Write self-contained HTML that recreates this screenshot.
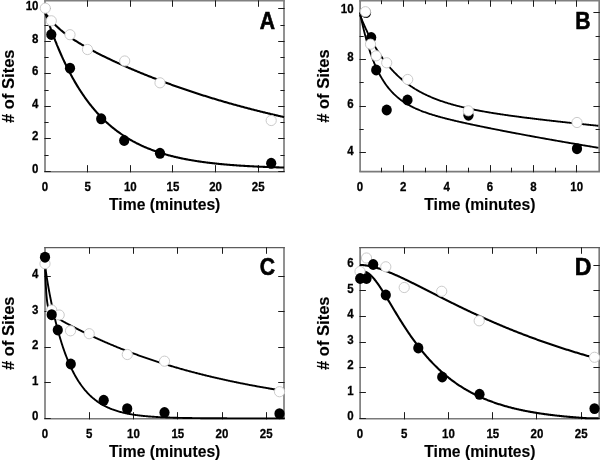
<!DOCTYPE html>
<html><head><meta charset="utf-8"><title>Figure</title>
<style>html,body{margin:0;padding:0;background:#fff;}svg{display:block;}svg{will-change:transform;filter:grayscale(1);}</style>
</head><body>
<svg width="600" height="461" viewBox="0 0 600 461" font-family="'Liberation Sans', sans-serif" font-weight="bold" fill="#000" stroke="#000" stroke-width="0">
<rect width="600" height="461" fill="#fff"/>
<line x1="44.20" y1="171.75" x2="284.80" y2="171.75" stroke="#7a7a7a" stroke-width="1.7"/>
<line x1="45.00" y1="0.60" x2="45.00" y2="171.75" stroke="#7a7a7a" stroke-width="1.65"/>
<line x1="284.00" y1="0.60" x2="284.00" y2="171.75" stroke="#7a7a7a" stroke-width="1.65"/>
<line x1="44.10" y1="0.60" x2="284.90" y2="0.60" stroke="#808080" stroke-width="1.7"/>
<line x1="87.50" y1="172.35" x2="87.50" y2="165.15" stroke="#1c1c1c" stroke-width="1.0"/>
<line x1="87.50" y1="0.30" x2="87.50" y2="6.80" stroke="#1c1c1c" stroke-width="1.0"/>
<line x1="130.50" y1="172.35" x2="130.50" y2="165.15" stroke="#1c1c1c" stroke-width="1.0"/>
<line x1="130.50" y1="0.30" x2="130.50" y2="6.80" stroke="#1c1c1c" stroke-width="1.0"/>
<line x1="172.50" y1="172.35" x2="172.50" y2="165.15" stroke="#1c1c1c" stroke-width="1.0"/>
<line x1="172.50" y1="0.30" x2="172.50" y2="6.80" stroke="#1c1c1c" stroke-width="1.0"/>
<line x1="215.50" y1="172.35" x2="215.50" y2="165.15" stroke="#1c1c1c" stroke-width="1.0"/>
<line x1="215.50" y1="0.30" x2="215.50" y2="6.80" stroke="#1c1c1c" stroke-width="1.0"/>
<line x1="258.50" y1="172.35" x2="258.50" y2="165.15" stroke="#1c1c1c" stroke-width="1.0"/>
<line x1="258.50" y1="0.30" x2="258.50" y2="6.80" stroke="#1c1c1c" stroke-width="1.0"/>
<line x1="44.40" y1="171.50" x2="50.80" y2="171.50" stroke="#1c1c1c" stroke-width="1.0"/>
<line x1="284.60" y1="171.50" x2="278.20" y2="171.50" stroke="#1c1c1c" stroke-width="1.0"/>
<line x1="44.40" y1="155.50" x2="48.60" y2="155.50" stroke="#1c1c1c" stroke-width="1.0"/>
<line x1="284.60" y1="155.50" x2="280.40" y2="155.50" stroke="#1c1c1c" stroke-width="1.0"/>
<line x1="44.40" y1="138.50" x2="50.80" y2="138.50" stroke="#1c1c1c" stroke-width="1.0"/>
<line x1="284.60" y1="138.50" x2="278.20" y2="138.50" stroke="#1c1c1c" stroke-width="1.0"/>
<line x1="44.40" y1="122.50" x2="48.60" y2="122.50" stroke="#1c1c1c" stroke-width="1.0"/>
<line x1="284.60" y1="122.50" x2="280.40" y2="122.50" stroke="#1c1c1c" stroke-width="1.0"/>
<line x1="44.40" y1="106.50" x2="50.80" y2="106.50" stroke="#1c1c1c" stroke-width="1.0"/>
<line x1="284.60" y1="106.50" x2="278.20" y2="106.50" stroke="#1c1c1c" stroke-width="1.0"/>
<line x1="44.40" y1="90.50" x2="48.60" y2="90.50" stroke="#1c1c1c" stroke-width="1.0"/>
<line x1="284.60" y1="90.50" x2="280.40" y2="90.50" stroke="#1c1c1c" stroke-width="1.0"/>
<line x1="44.40" y1="73.50" x2="50.80" y2="73.50" stroke="#1c1c1c" stroke-width="1.0"/>
<line x1="284.60" y1="73.50" x2="278.20" y2="73.50" stroke="#1c1c1c" stroke-width="1.0"/>
<line x1="44.40" y1="57.50" x2="48.60" y2="57.50" stroke="#1c1c1c" stroke-width="1.0"/>
<line x1="284.60" y1="57.50" x2="280.40" y2="57.50" stroke="#1c1c1c" stroke-width="1.0"/>
<line x1="44.40" y1="41.50" x2="50.80" y2="41.50" stroke="#1c1c1c" stroke-width="1.0"/>
<line x1="284.60" y1="41.50" x2="278.20" y2="41.50" stroke="#1c1c1c" stroke-width="1.0"/>
<line x1="44.40" y1="25.50" x2="48.60" y2="25.50" stroke="#1c1c1c" stroke-width="1.0"/>
<line x1="284.60" y1="25.50" x2="280.40" y2="25.50" stroke="#1c1c1c" stroke-width="1.0"/>
<line x1="44.40" y1="8.50" x2="50.80" y2="8.50" stroke="#1c1c1c" stroke-width="1.0"/>
<line x1="284.60" y1="8.50" x2="278.20" y2="8.50" stroke="#1c1c1c" stroke-width="1.0"/>
<text transform="translate(45.0,190.8) scale(1,1.1)" font-size="11.5" text-anchor="middle" stroke-width="0.25">0</text>
<text transform="translate(87.7,190.8) scale(1,1.1)" font-size="11.5" text-anchor="middle" stroke-width="0.25">5</text>
<text transform="translate(130.3,190.8) scale(1,1.1)" font-size="11.5" text-anchor="middle" stroke-width="0.25">10</text>
<text transform="translate(172.9,190.8) scale(1,1.1)" font-size="11.5" text-anchor="middle" stroke-width="0.25">15</text>
<text transform="translate(215.6,190.8) scale(1,1.1)" font-size="11.5" text-anchor="middle" stroke-width="0.25">20</text>
<text transform="translate(258.2,190.8) scale(1,1.1)" font-size="11.5" text-anchor="middle" stroke-width="0.25">25</text>
<text transform="translate(38.5,172.9) scale(1,1.1)" font-size="11.5" text-anchor="end" stroke-width="0.25">0</text>
<text transform="translate(38.5,140.4) scale(1,1.1)" font-size="11.5" text-anchor="end" stroke-width="0.25">2</text>
<text transform="translate(38.5,107.9) scale(1,1.1)" font-size="11.5" text-anchor="end" stroke-width="0.25">4</text>
<text transform="translate(38.5,75.4) scale(1,1.1)" font-size="11.5" text-anchor="end" stroke-width="0.25">6</text>
<text transform="translate(38.5,42.9) scale(1,1.1)" font-size="11.5" text-anchor="end" stroke-width="0.25">8</text>
<text transform="translate(38.5,9.9) scale(1,1.1)" font-size="11.5" text-anchor="end" stroke-width="0.25">10</text>
<text x="164.7" y="209.9" font-size="15.7" text-anchor="middle" stroke-width="0.12" >Time (minutes)</text>
<text transform="translate(13.5,86.2) rotate(-90) scale(1.04,1)" font-size="15.9" stroke-width="0.12" text-anchor="middle">#&#160;of Sites</text>
<text transform="translate(267.4,29.2) scale(0.9,1)" font-size="23.5" stroke-width="0.6" stroke-linejoin="miter" text-anchor="middle">A</text>
<path d="M45.00,12.65 L45.22,12.96 L45.43,13.27 L45.65,13.58 L45.87,13.88 L46.08,14.18 L46.30,14.48 L46.52,14.78 L46.73,15.07 L46.95,15.36 L47.17,15.65 L47.38,15.93 L47.60,16.22 L47.82,16.50 L48.03,16.78 L48.25,17.06 L48.47,17.33 L48.68,17.60 L48.90,17.87 L49.12,18.14 L49.33,18.40 L49.55,18.67 L49.77,18.93 L49.98,19.19 L50.20,19.45 L50.42,19.70 L50.63,19.95 L50.85,20.21 L51.07,20.45 L51.28,20.70 L51.50,20.95 L51.72,21.19 L51.93,21.43 L52.15,21.67 L52.37,21.91 L52.58,22.15 L52.80,22.38 L53.02,22.61 L53.23,22.85 L53.45,23.08 L53.67,23.30 L53.89,23.53 L54.10,23.75 L54.32,23.98 L54.54,24.20 L54.75,24.42 L54.97,24.64 L55.19,24.86 L55.40,25.07 L55.62,25.29 L55.84,25.50 L56.05,25.71 L56.27,25.92 L56.49,26.13 L56.70,26.34 L56.92,26.54 L57.14,26.75 L57.35,26.95 L57.57,27.15 L57.79,27.35 L58.00,27.55 L58.22,27.75 L58.44,27.95 L58.65,28.15 L58.87,28.34 L59.09,28.53 L59.30,28.73 L59.52,28.92 L59.74,29.11 L59.95,29.30 L60.17,29.49 L60.39,29.67 L60.60,29.86 L60.82,30.05 L61.04,30.23 L61.25,30.41 L61.47,30.59 L61.69,30.78 L61.90,30.96 L62.12,31.13 L62.86,31.74 L63.60,32.34 L64.35,32.92 L65.09,33.50 L65.83,34.07 L66.57,34.62 L67.32,35.17 L68.06,35.72 L68.80,36.25 L69.54,36.78 L70.29,37.29 L71.03,37.81 L71.77,38.31 L72.51,38.81 L73.26,39.31 L74.00,39.79 L74.74,40.28 L75.48,40.75 L76.22,41.22 L76.97,41.69 L77.71,42.15 L78.45,42.61 L79.19,43.06 L79.94,43.51 L80.68,43.96 L81.42,44.40 L82.16,44.84 L82.91,45.27 L83.65,45.70 L84.39,46.13 L85.13,46.55 L85.88,46.97 L86.62,47.39 L87.36,47.80 L88.10,48.21 L88.84,48.62 L89.59,49.03 L90.33,49.43 L91.07,49.83 L91.81,50.23 L92.56,50.62 L93.30,51.02 L94.04,51.41 L94.78,51.80 L95.53,52.18 L96.27,52.57 L97.01,52.95 L97.75,53.33 L98.49,53.71 L99.24,54.09 L99.98,54.46 L100.72,54.83 L101.46,55.20 L102.21,55.57 L102.95,55.94 L103.69,56.31 L104.43,56.67 L105.18,57.03 L105.92,57.40 L106.66,57.76 L107.40,58.11 L108.15,58.47 L108.89,58.82 L109.63,59.18 L110.37,59.53 L111.11,59.88 L111.86,60.23 L112.60,60.58 L113.34,60.93 L114.08,61.27 L114.83,61.61 L115.57,61.96 L116.31,62.30 L117.05,62.64 L117.80,62.98 L118.54,63.32 L119.28,63.65 L120.02,63.99 L120.77,64.32 L121.51,64.65 L122.25,64.99 L122.99,65.32 L123.73,65.65 L124.48,65.97 L125.22,66.30 L125.96,66.63 L126.70,66.95 L127.45,67.27 L128.19,67.60 L128.93,67.92 L129.67,68.24 L130.42,68.56 L131.16,68.88 L131.90,69.19 L132.64,69.51 L133.39,69.83 L134.13,70.14 L134.87,70.45 L135.61,70.76 L136.35,71.08 L137.10,71.39 L137.84,71.69 L138.58,72.00 L139.32,72.31 L140.07,72.62 L140.81,72.92 L141.55,73.22 L142.29,73.53 L143.04,73.83 L143.78,74.13 L144.52,74.43 L145.26,74.73 L146.00,75.03 L146.75,75.33 L147.49,75.62 L148.23,75.92 L148.97,76.21 L149.72,76.51 L150.46,76.80 L151.20,77.09 L151.94,77.38 L152.69,77.67 L153.43,77.96 L154.17,78.25 L154.91,78.53 L155.66,78.82 L156.40,79.11 L157.14,79.39 L157.88,79.67 L158.62,79.96 L159.37,80.24 L160.11,80.52 L160.85,80.80 L161.59,81.08 L162.34,81.36 L163.08,81.63 L163.82,81.91 L164.56,82.19 L165.31,82.46 L166.05,82.74 L166.79,83.01 L167.53,83.28 L168.28,83.55 L169.02,83.82 L169.76,84.09 L170.50,84.36 L171.24,84.63 L171.99,84.90 L172.73,85.16 L173.47,85.43 L174.21,85.69 L174.96,85.96 L175.70,86.22 L176.44,86.48 L177.18,86.74 L177.93,87.01 L178.67,87.27 L179.41,87.52 L180.15,87.78 L180.90,88.04 L181.64,88.30 L182.38,88.55 L183.12,88.81 L183.86,89.06 L184.61,89.32 L185.35,89.57 L186.09,89.82 L186.83,90.07 L187.58,90.32 L188.32,90.57 L189.06,90.82 L189.80,91.07 L190.55,91.32 L191.29,91.56 L192.03,91.81 L192.77,92.05 L193.51,92.30 L194.26,92.54 L195.00,92.78 L195.74,93.03 L196.48,93.27 L197.23,93.51 L197.97,93.75 L198.71,93.99 L199.45,94.23 L200.20,94.46 L200.94,94.70 L201.68,94.94 L202.42,95.17 L203.17,95.41 L203.91,95.64 L204.65,95.87 L205.39,96.11 L206.13,96.34 L206.88,96.57 L207.62,96.80 L208.36,97.03 L209.10,97.26 L209.85,97.49 L210.59,97.71 L211.33,97.94 L212.07,98.17 L212.82,98.39 L213.56,98.62 L214.30,98.84 L215.04,99.06 L215.79,99.29 L216.53,99.51 L217.27,99.73 L218.01,99.95 L218.75,100.17 L219.50,100.39 L220.24,100.61 L220.98,100.83 L221.72,101.04 L222.47,101.26 L223.21,101.48 L223.95,101.69 L224.69,101.91 L225.44,102.12 L226.18,102.33 L226.92,102.55 L227.66,102.76 L228.41,102.97 L229.15,103.18 L229.89,103.39 L230.63,103.60 L231.37,103.81 L232.12,104.02 L232.86,104.22 L233.60,104.43 L234.34,104.64 L235.09,104.84 L235.83,105.05 L236.57,105.25 L237.31,105.45 L238.06,105.66 L238.80,105.86 L239.54,106.06 L240.28,106.26 L241.02,106.46 L241.77,106.66 L242.51,106.86 L243.25,107.06 L243.99,107.26 L244.74,107.46 L245.48,107.65 L246.22,107.85 L246.96,108.04 L247.71,108.24 L248.45,108.43 L249.19,108.63 L249.93,108.82 L250.68,109.01 L251.42,109.21 L252.16,109.40 L252.90,109.59 L253.64,109.78 L254.39,109.97 L255.13,110.16 L255.87,110.34 L256.61,110.53 L257.36,110.72 L258.10,110.91 L258.84,111.09 L259.58,111.28 L260.33,111.46 L261.07,111.65 L261.81,111.83 L262.55,112.02 L263.30,112.20 L264.04,112.38 L264.78,112.56 L265.52,112.74 L266.26,112.92 L267.01,113.10 L267.75,113.28 L268.49,113.46 L269.23,113.64 L269.98,113.82 L270.72,113.99 L271.46,114.17 L272.20,114.35 L272.95,114.52 L273.69,114.70 L274.43,114.87 L275.17,115.05 L275.92,115.22 L276.66,115.39 L277.40,115.57 L278.14,115.74 L278.88,115.91 L279.63,116.08 L280.37,116.25 L281.11,116.42 L281.85,116.59 L282.60,116.76 L283.34,116.92 L284.08,117.09" fill="none" stroke="#000" stroke-width="2.1" stroke-linejoin="round" stroke-linecap="butt"/>
<path d="M45.00,11.91 L45.22,12.58 L45.43,13.24 L45.65,13.91 L45.87,14.57 L46.08,15.23 L46.30,15.88 L46.52,16.54 L46.73,17.19 L46.95,17.83 L47.17,18.48 L47.38,19.12 L47.60,19.76 L47.82,20.40 L48.03,21.03 L48.25,21.66 L48.47,22.29 L48.68,22.92 L48.90,23.54 L49.12,24.16 L49.33,24.78 L49.55,25.39 L49.77,26.01 L49.98,26.62 L50.20,27.22 L50.42,27.83 L50.63,28.43 L50.85,29.03 L51.07,29.63 L51.28,30.22 L51.50,30.81 L51.72,31.40 L51.93,31.99 L52.15,32.57 L52.37,33.16 L52.58,33.74 L52.80,34.31 L53.02,34.89 L53.23,35.46 L53.45,36.03 L53.67,36.60 L53.89,37.16 L54.10,37.72 L54.32,38.28 L54.54,38.84 L54.75,39.40 L54.97,39.95 L55.19,40.50 L55.40,41.05 L55.62,41.59 L55.84,42.14 L56.05,42.68 L56.27,43.22 L56.49,43.75 L56.70,44.29 L56.92,44.82 L57.14,45.35 L57.35,45.88 L57.57,46.40 L57.79,46.92 L58.00,47.44 L58.22,47.96 L58.44,48.48 L58.65,48.99 L58.87,49.51 L59.09,50.02 L59.30,50.52 L59.52,51.03 L59.74,51.53 L59.95,52.03 L60.17,52.53 L60.39,53.03 L60.60,53.52 L60.82,54.02 L61.04,54.51 L61.25,54.99 L61.47,55.48 L61.69,55.96 L61.90,56.45 L62.12,56.93 L62.86,58.56 L63.60,60.16 L64.35,61.74 L65.09,63.30 L65.83,64.84 L66.57,66.35 L67.32,67.84 L68.06,69.31 L68.80,70.76 L69.54,72.19 L70.29,73.60 L71.03,74.98 L71.77,76.35 L72.51,77.70 L73.26,79.02 L74.00,80.33 L74.74,81.62 L75.48,82.89 L76.22,84.14 L76.97,85.38 L77.71,86.59 L78.45,87.79 L79.19,88.97 L79.94,90.13 L80.68,91.28 L81.42,92.41 L82.16,93.52 L82.91,94.62 L83.65,95.70 L84.39,96.76 L85.13,97.81 L85.88,98.85 L86.62,99.87 L87.36,100.87 L88.10,101.86 L88.84,102.84 L89.59,103.80 L90.33,104.75 L91.07,105.68 L91.81,106.60 L92.56,107.51 L93.30,108.40 L94.04,109.28 L94.78,110.15 L95.53,111.00 L96.27,111.85 L97.01,112.68 L97.75,113.50 L98.49,114.30 L99.24,115.10 L99.98,115.88 L100.72,116.65 L101.46,117.41 L102.21,118.16 L102.95,118.90 L103.69,119.63 L104.43,120.35 L105.18,121.05 L105.92,121.75 L106.66,122.44 L107.40,123.11 L108.15,123.78 L108.89,124.44 L109.63,125.08 L110.37,125.72 L111.11,126.35 L111.86,126.97 L112.60,127.58 L113.34,128.18 L114.08,128.77 L114.83,129.36 L115.57,129.93 L116.31,130.50 L117.05,131.06 L117.80,131.61 L118.54,132.16 L119.28,132.69 L120.02,133.22 L120.77,133.74 L121.51,134.25 L122.25,134.75 L122.99,135.25 L123.73,135.74 L124.48,136.22 L125.22,136.70 L125.96,137.17 L126.70,137.63 L127.45,138.09 L128.19,138.54 L128.93,138.98 L129.67,139.41 L130.42,139.84 L131.16,140.27 L131.90,140.68 L132.64,141.10 L133.39,141.50 L134.13,141.90 L134.87,142.29 L135.61,142.68 L136.35,143.06 L137.10,143.44 L137.84,143.81 L138.58,144.18 L139.32,144.54 L140.07,144.89 L140.81,145.24 L141.55,145.59 L142.29,145.93 L143.04,146.26 L143.78,146.59 L144.52,146.92 L145.26,147.24 L146.00,147.55 L146.75,147.86 L147.49,148.17 L148.23,148.47 L148.97,148.77 L149.72,149.06 L150.46,149.35 L151.20,149.64 L151.94,149.92 L152.69,150.20 L153.43,150.47 L154.17,150.74 L154.91,151.00 L155.66,151.26 L156.40,151.52 L157.14,151.78 L157.88,152.03 L158.62,152.27 L159.37,152.51 L160.11,152.75 L160.85,152.99 L161.59,153.22 L162.34,153.45 L163.08,153.68 L163.82,153.90 L164.56,154.12 L165.31,154.33 L166.05,154.55 L166.79,154.75 L167.53,154.96 L168.28,155.16 L169.02,155.37 L169.76,155.56 L170.50,155.76 L171.24,155.95 L171.99,156.14 L172.73,156.33 L173.47,156.51 L174.21,156.69 L174.96,156.87 L175.70,157.04 L176.44,157.22 L177.18,157.39 L177.93,157.56 L178.67,157.72 L179.41,157.89 L180.15,158.05 L180.90,158.21 L181.64,158.36 L182.38,158.52 L183.12,158.67 L183.86,158.82 L184.61,158.96 L185.35,159.11 L186.09,159.25 L186.83,159.39 L187.58,159.53 L188.32,159.67 L189.06,159.81 L189.80,159.94 L190.55,160.07 L191.29,160.20 L192.03,160.33 L192.77,160.45 L193.51,160.58 L194.26,160.70 L195.00,160.82 L195.74,160.94 L196.48,161.05 L197.23,161.17 L197.97,161.28 L198.71,161.39 L199.45,161.50 L200.20,161.61 L200.94,161.72 L201.68,161.82 L202.42,161.93 L203.17,162.03 L203.91,162.13 L204.65,162.23 L205.39,162.33 L206.13,162.42 L206.88,162.52 L207.62,162.61 L208.36,162.70 L209.10,162.80 L209.85,162.88 L210.59,162.97 L211.33,163.06 L212.07,163.15 L212.82,163.23 L213.56,163.31 L214.30,163.40 L215.04,163.48 L215.79,163.56 L216.53,163.63 L217.27,163.71 L218.01,163.79 L218.75,163.86 L219.50,163.94 L220.24,164.01 L220.98,164.08 L221.72,164.15 L222.47,164.22 L223.21,164.29 L223.95,164.36 L224.69,164.43 L225.44,164.49 L226.18,164.56 L226.92,164.62 L227.66,164.68 L228.41,164.75 L229.15,164.81 L229.89,164.87 L230.63,164.93 L231.37,164.99 L232.12,165.04 L232.86,165.10 L233.60,165.16 L234.34,165.21 L235.09,165.27 L235.83,165.32 L236.57,165.37 L237.31,165.43 L238.06,165.48 L238.80,165.53 L239.54,165.58 L240.28,165.63 L241.02,165.68 L241.77,165.72 L242.51,165.77 L243.25,165.82 L243.99,165.86 L244.74,165.91 L245.48,165.95 L246.22,166.00 L246.96,166.04 L247.71,166.08 L248.45,166.12 L249.19,166.16 L249.93,166.20 L250.68,166.24 L251.42,166.28 L252.16,166.32 L252.90,166.36 L253.64,166.40 L254.39,166.44 L255.13,166.47 L255.87,166.51 L256.61,166.54 L257.36,166.58 L258.10,166.61 L258.84,166.65 L259.58,166.68 L260.33,166.72 L261.07,166.75 L261.81,166.78 L262.55,166.81 L263.30,166.84 L264.04,166.87 L264.78,166.90 L265.52,166.93 L266.26,166.96 L267.01,166.99 L267.75,167.02 L268.49,167.05 L269.23,167.08 L269.98,167.10 L270.72,167.13 L271.46,167.16 L272.20,167.18 L272.95,167.21 L273.69,167.24 L274.43,167.26 L275.17,167.28 L275.92,167.31 L276.66,167.33 L277.40,167.36 L278.14,167.38 L278.88,167.40 L279.63,167.43 L280.37,167.45 L281.11,167.47 L281.85,167.49 L282.60,167.51 L283.34,167.53 L284.08,167.55" fill="none" stroke="#000" stroke-width="2.1" stroke-linejoin="round" stroke-linecap="butt"/>
<ellipse cx="51.3" cy="34.5" rx="5.1" ry="5.449999999999999" fill="#000"/>
<ellipse cx="70.0" cy="68.2" rx="5.1" ry="5.449999999999999" fill="#000"/>
<ellipse cx="101.2" cy="118.8" rx="5.1" ry="5.449999999999999" fill="#000"/>
<ellipse cx="124.2" cy="140.5" rx="5.1" ry="5.449999999999999" fill="#000"/>
<ellipse cx="160.0" cy="153.3" rx="5.1" ry="5.449999999999999" fill="#000"/>
<ellipse cx="271.2" cy="163.3" rx="5.1" ry="5.449999999999999" fill="#000"/>
<circle cx="45.3" cy="8.2" r="5.1" fill="#fff" stroke="#cbcbcb" stroke-width="1.0"/>
<circle cx="51.3" cy="20.8" r="5.1" fill="#fff" stroke="#cbcbcb" stroke-width="1.0"/>
<circle cx="70.0" cy="34.7" r="5.1" fill="#fff" stroke="#cbcbcb" stroke-width="1.0"/>
<circle cx="87.5" cy="49.5" r="5.1" fill="#fff" stroke="#cbcbcb" stroke-width="1.0"/>
<circle cx="124.7" cy="61.0" r="5.1" fill="#fff" stroke="#cbcbcb" stroke-width="1.0"/>
<circle cx="160.0" cy="82.8" r="5.1" fill="#fff" stroke="#cbcbcb" stroke-width="1.0"/>
<circle cx="271.2" cy="120.5" r="5.1" fill="#fff" stroke="#cbcbcb" stroke-width="1.0"/>
<line x1="359.30" y1="171.70" x2="600.00" y2="171.70" stroke="#7a7a7a" stroke-width="1.7"/>
<line x1="360.10" y1="0.60" x2="360.10" y2="171.70" stroke="#7a7a7a" stroke-width="1.65"/>
<line x1="599.20" y1="0.60" x2="599.20" y2="171.70" stroke="#7a7a7a" stroke-width="1.65"/>
<line x1="359.20" y1="0.60" x2="600.10" y2="0.60" stroke="#808080" stroke-width="1.7"/>
<line x1="381.50" y1="172.30" x2="381.50" y2="167.70" stroke="#1c1c1c" stroke-width="1.0"/>
<line x1="381.50" y1="0.30" x2="381.50" y2="4.20" stroke="#1c1c1c" stroke-width="1.0"/>
<line x1="403.50" y1="172.30" x2="403.50" y2="165.10" stroke="#1c1c1c" stroke-width="1.0"/>
<line x1="403.50" y1="0.30" x2="403.50" y2="6.80" stroke="#1c1c1c" stroke-width="1.0"/>
<line x1="425.50" y1="172.30" x2="425.50" y2="167.70" stroke="#1c1c1c" stroke-width="1.0"/>
<line x1="425.50" y1="0.30" x2="425.50" y2="4.20" stroke="#1c1c1c" stroke-width="1.0"/>
<line x1="446.50" y1="172.30" x2="446.50" y2="165.10" stroke="#1c1c1c" stroke-width="1.0"/>
<line x1="446.50" y1="0.30" x2="446.50" y2="6.80" stroke="#1c1c1c" stroke-width="1.0"/>
<line x1="468.50" y1="172.30" x2="468.50" y2="167.70" stroke="#1c1c1c" stroke-width="1.0"/>
<line x1="468.50" y1="0.30" x2="468.50" y2="4.20" stroke="#1c1c1c" stroke-width="1.0"/>
<line x1="490.50" y1="172.30" x2="490.50" y2="165.10" stroke="#1c1c1c" stroke-width="1.0"/>
<line x1="490.50" y1="0.30" x2="490.50" y2="6.80" stroke="#1c1c1c" stroke-width="1.0"/>
<line x1="511.50" y1="172.30" x2="511.50" y2="167.70" stroke="#1c1c1c" stroke-width="1.0"/>
<line x1="511.50" y1="0.30" x2="511.50" y2="4.20" stroke="#1c1c1c" stroke-width="1.0"/>
<line x1="533.50" y1="172.30" x2="533.50" y2="165.10" stroke="#1c1c1c" stroke-width="1.0"/>
<line x1="533.50" y1="0.30" x2="533.50" y2="6.80" stroke="#1c1c1c" stroke-width="1.0"/>
<line x1="555.50" y1="172.30" x2="555.50" y2="167.70" stroke="#1c1c1c" stroke-width="1.0"/>
<line x1="555.50" y1="0.30" x2="555.50" y2="4.20" stroke="#1c1c1c" stroke-width="1.0"/>
<line x1="576.50" y1="172.30" x2="576.50" y2="165.10" stroke="#1c1c1c" stroke-width="1.0"/>
<line x1="576.50" y1="0.30" x2="576.50" y2="6.80" stroke="#1c1c1c" stroke-width="1.0"/>
<line x1="359.50" y1="152.50" x2="365.90" y2="152.50" stroke="#1c1c1c" stroke-width="1.0"/>
<line x1="599.80" y1="152.50" x2="593.40" y2="152.50" stroke="#1c1c1c" stroke-width="1.0"/>
<line x1="359.50" y1="129.50" x2="363.70" y2="129.50" stroke="#1c1c1c" stroke-width="1.0"/>
<line x1="599.80" y1="129.50" x2="595.60" y2="129.50" stroke="#1c1c1c" stroke-width="1.0"/>
<line x1="359.50" y1="106.50" x2="365.90" y2="106.50" stroke="#1c1c1c" stroke-width="1.0"/>
<line x1="599.80" y1="106.50" x2="593.40" y2="106.50" stroke="#1c1c1c" stroke-width="1.0"/>
<line x1="359.50" y1="82.50" x2="363.70" y2="82.50" stroke="#1c1c1c" stroke-width="1.0"/>
<line x1="599.80" y1="82.50" x2="595.60" y2="82.50" stroke="#1c1c1c" stroke-width="1.0"/>
<line x1="359.50" y1="59.50" x2="365.90" y2="59.50" stroke="#1c1c1c" stroke-width="1.0"/>
<line x1="599.80" y1="59.50" x2="593.40" y2="59.50" stroke="#1c1c1c" stroke-width="1.0"/>
<line x1="359.50" y1="36.50" x2="363.70" y2="36.50" stroke="#1c1c1c" stroke-width="1.0"/>
<line x1="599.80" y1="36.50" x2="595.60" y2="36.50" stroke="#1c1c1c" stroke-width="1.0"/>
<line x1="359.50" y1="12.50" x2="365.90" y2="12.50" stroke="#1c1c1c" stroke-width="1.0"/>
<line x1="599.80" y1="12.50" x2="593.40" y2="12.50" stroke="#1c1c1c" stroke-width="1.0"/>
<text transform="translate(360.0,190.8) scale(1,1.1)" font-size="11.5" text-anchor="middle" stroke-width="0.25">0</text>
<text transform="translate(403.3,190.8) scale(1,1.1)" font-size="11.5" text-anchor="middle" stroke-width="0.25">2</text>
<text transform="translate(446.7,190.8) scale(1,1.1)" font-size="11.5" text-anchor="middle" stroke-width="0.25">4</text>
<text transform="translate(490.0,190.8) scale(1,1.1)" font-size="11.5" text-anchor="middle" stroke-width="0.25">6</text>
<text transform="translate(533.4,190.8) scale(1,1.1)" font-size="11.5" text-anchor="middle" stroke-width="0.25">8</text>
<text transform="translate(576.7,190.8) scale(1,1.1)" font-size="11.5" text-anchor="middle" stroke-width="0.25">10</text>
<text transform="translate(353.6,154.6) scale(1,1.1)" font-size="11.5" text-anchor="end" stroke-width="0.25">4</text>
<text transform="translate(353.6,107.9) scale(1,1.1)" font-size="11.5" text-anchor="end" stroke-width="0.25">6</text>
<text transform="translate(353.6,61.2) scale(1,1.1)" font-size="11.5" text-anchor="end" stroke-width="0.25">8</text>
<text transform="translate(353.6,13.2) scale(1,1.1)" font-size="11.5" text-anchor="end" stroke-width="0.25">10</text>
<text x="479.9" y="209.9" font-size="15.7" text-anchor="middle" stroke-width="0.12" >Time (minutes)</text>
<text transform="translate(328.6,86.1) rotate(-90) scale(1.04,1)" font-size="15.9" stroke-width="0.12" text-anchor="middle">#&#160;of Sites</text>
<text transform="translate(583.0,29.2) scale(0.9,1)" font-size="23.5" stroke-width="0.6" stroke-linejoin="miter" text-anchor="middle">B</text>
<path d="M360.00,15.00 L360.55,16.40 L361.10,17.78 L361.65,19.14 L362.19,20.48 L362.74,21.79 L363.29,23.09 L363.84,24.37 L364.39,25.63 L364.94,26.87 L365.49,28.09 L366.03,29.29 L366.58,30.48 L367.13,31.64 L367.68,32.79 L368.23,33.93 L368.78,35.04 L369.33,36.14 L369.87,37.22 L370.42,38.29 L370.97,39.34 L371.52,40.38 L372.07,41.40 L372.62,42.40 L373.17,43.40 L373.72,44.37 L374.26,45.33 L374.81,46.28 L375.36,47.21 L375.91,48.13 L376.46,49.04 L377.01,49.93 L377.56,50.81 L378.10,51.68 L378.65,52.53 L379.20,53.38 L379.75,54.20 L380.30,55.02 L380.85,55.83 L381.40,56.62 L381.94,57.40 L382.49,58.18 L383.04,58.94 L383.59,59.68 L384.14,60.42 L384.69,61.15 L385.24,61.87 L385.78,62.57 L386.33,63.27 L386.88,63.96 L387.43,64.63 L387.98,65.30 L388.53,65.96 L389.08,66.61 L389.62,67.25 L390.17,67.88 L390.72,68.50 L391.27,69.11 L391.82,69.71 L392.37,70.31 L392.92,70.89 L393.47,71.47 L394.01,72.04 L394.56,72.61 L395.11,73.16 L395.66,73.71 L396.21,74.25 L396.76,74.78 L397.31,75.30 L397.85,75.82 L398.40,76.33 L398.95,76.83 L399.50,77.33 L400.05,77.82 L400.60,78.30 L401.15,78.77 L401.69,79.24 L402.24,79.71 L402.79,80.16 L403.34,80.61 L403.99,81.14 L404.64,81.66 L405.30,82.17 L405.95,82.67 L406.60,83.17 L407.25,83.65 L407.91,84.13 L408.56,84.60 L409.21,85.07 L409.86,85.52 L410.52,85.97 L411.17,86.41 L411.82,86.85 L412.47,87.28 L413.12,87.70 L413.78,88.11 L414.43,88.52 L415.08,88.93 L415.73,89.32 L416.39,89.71 L417.04,90.10 L417.69,90.48 L418.34,90.85 L418.99,91.22 L419.65,91.58 L420.30,91.94 L420.95,92.29 L421.60,92.63 L422.26,92.97 L422.91,93.31 L423.56,93.64 L424.21,93.97 L424.87,94.29 L425.52,94.61 L426.17,94.92 L426.82,95.23 L427.47,95.53 L428.13,95.83 L428.78,96.12 L429.43,96.41 L430.08,96.70 L430.74,96.98 L431.39,97.26 L432.04,97.54 L432.69,97.81 L433.34,98.08 L434.00,98.34 L434.65,98.60 L435.30,98.86 L435.95,99.11 L436.61,99.36 L437.26,99.61 L437.91,99.85 L438.56,100.09 L439.22,100.33 L439.87,100.56 L440.52,100.79 L441.17,101.02 L441.82,101.24 L442.48,101.47 L443.13,101.68 L443.78,101.90 L444.43,102.12 L445.09,102.33 L445.74,102.53 L446.39,102.74 L447.04,102.94 L447.69,103.15 L448.35,103.34 L449.00,103.54 L449.65,103.73 L450.30,103.93 L450.96,104.12 L451.61,104.30 L452.26,104.49 L452.91,104.67 L453.57,104.85 L454.22,105.03 L454.87,105.21 L455.52,105.38 L456.17,105.55 L456.83,105.73 L457.48,105.89 L458.13,106.06 L458.78,106.23 L459.44,106.39 L460.09,106.55 L460.74,106.71 L461.39,106.87 L462.04,107.03 L462.70,107.18 L463.35,107.34 L464.00,107.49 L464.65,107.64 L465.31,107.79 L465.96,107.94 L466.61,108.08 L467.26,108.23 L467.92,108.37 L468.57,108.51 L469.22,108.65 L469.87,108.79 L470.52,108.93 L471.18,109.07 L471.83,109.20 L472.48,109.34 L473.13,109.47 L473.79,109.60 L474.44,109.74 L475.09,109.87 L475.74,109.99 L476.39,110.12 L477.05,110.25 L477.70,110.37 L478.35,110.50 L479.00,110.62 L479.66,110.74 L480.31,110.87 L480.96,110.99 L481.61,111.10 L482.27,111.22 L482.92,111.34 L483.57,111.46 L484.22,111.57 L484.87,111.69 L485.53,111.80 L486.18,111.92 L486.83,112.03 L487.48,112.14 L488.14,112.25 L488.79,112.36 L489.44,112.47 L490.09,112.58 L490.74,112.69 L491.40,112.79 L492.05,112.90 L492.70,113.01 L493.35,113.11 L494.01,113.22 L494.66,113.32 L495.31,113.42 L495.96,113.53 L496.62,113.63 L497.27,113.73 L497.92,113.83 L498.57,113.93 L499.22,114.03 L499.88,114.13 L500.53,114.23 L501.18,114.32 L501.83,114.42 L502.49,114.52 L503.14,114.61 L503.79,114.71 L504.44,114.81 L505.09,114.90 L505.75,114.99 L506.40,115.09 L507.05,115.18 L507.70,115.27 L508.36,115.37 L509.01,115.46 L509.66,115.55 L510.31,115.64 L510.97,115.73 L511.62,115.82 L512.27,115.91 L512.92,116.00 L513.57,116.09 L514.23,116.18 L514.88,116.27 L515.53,116.35 L516.18,116.44 L516.84,116.53 L517.49,116.61 L518.14,116.70 L518.79,116.79 L519.44,116.87 L520.10,116.96 L520.75,117.04 L521.40,117.13 L522.05,117.21 L522.71,117.30 L523.36,117.38 L524.01,117.46 L524.66,117.55 L525.32,117.63 L525.97,117.71 L526.62,117.79 L527.27,117.87 L527.92,117.96 L528.58,118.04 L529.23,118.12 L529.88,118.20 L530.53,118.28 L531.19,118.36 L531.84,118.44 L532.49,118.52 L533.14,118.60 L533.79,118.68 L534.45,118.76 L535.10,118.84 L535.75,118.92 L536.40,119.00 L537.06,119.07 L537.71,119.15 L538.36,119.23 L539.01,119.31 L539.67,119.38 L540.32,119.46 L540.97,119.54 L541.62,119.62 L542.27,119.69 L542.93,119.77 L543.58,119.84 L544.23,119.92 L544.88,120.00 L545.54,120.07 L546.19,120.15 L546.84,120.22 L547.49,120.30 L548.14,120.37 L548.80,120.45 L549.45,120.52 L550.10,120.60 L550.75,120.67 L551.41,120.75 L552.06,120.82 L552.71,120.89 L553.36,120.97 L554.02,121.04 L554.67,121.12 L555.32,121.19 L555.97,121.26 L556.62,121.33 L557.28,121.41 L557.93,121.48 L558.58,121.55 L559.23,121.63 L559.89,121.70 L560.54,121.77 L561.19,121.84 L561.84,121.91 L562.49,121.99 L563.15,122.06 L563.80,122.13 L564.45,122.20 L565.10,122.27 L565.76,122.34 L566.41,122.41 L567.06,122.49 L567.71,122.56 L568.37,122.63 L569.02,122.70 L569.67,122.77 L570.32,122.84 L570.97,122.91 L571.63,122.98 L572.28,123.05 L572.93,123.12 L573.58,123.19 L574.24,123.26 L574.89,123.33 L575.54,123.40 L576.19,123.47 L576.84,123.54 L577.50,123.61 L578.15,123.68 L578.80,123.75 L579.45,123.82 L580.11,123.88 L580.76,123.95 L581.41,124.02 L582.06,124.09 L582.72,124.16 L583.37,124.23 L584.02,124.30 L584.67,124.37 L585.32,124.43 L585.98,124.50 L586.63,124.57 L587.28,124.64 L587.93,124.71 L588.59,124.78 L589.24,124.84 L589.89,124.91 L590.54,124.98 L591.19,125.05 L591.85,125.11 L592.50,125.18 L593.15,125.25 L593.80,125.32 L594.46,125.38 L595.11,125.45 L595.76,125.52 L596.41,125.59 L597.07,125.65 L597.72,125.72 L598.37,125.79" fill="none" stroke="#000" stroke-width="1.85" stroke-linejoin="round" stroke-linecap="butt"/>
<path d="M360.00,12.87 L360.55,15.55 L361.10,18.15 L361.65,20.68 L362.19,23.14 L362.74,25.53 L363.29,27.85 L363.84,30.11 L364.39,32.31 L364.94,34.45 L365.49,36.53 L366.03,38.55 L366.58,40.52 L367.13,42.43 L367.68,44.29 L368.23,46.10 L368.78,47.87 L369.33,49.58 L369.87,51.25 L370.42,52.87 L370.97,54.45 L371.52,55.98 L372.07,57.48 L372.62,58.93 L373.17,60.35 L373.72,61.73 L374.26,63.07 L374.81,64.37 L375.36,65.65 L375.91,66.88 L376.46,68.09 L377.01,69.26 L377.56,70.41 L378.10,71.52 L378.65,72.61 L379.20,73.66 L379.75,74.69 L380.30,75.70 L380.85,76.67 L381.40,77.63 L381.94,78.56 L382.49,79.46 L383.04,80.34 L383.59,81.20 L384.14,82.04 L384.69,82.86 L385.24,83.66 L385.78,84.43 L386.33,85.19 L386.88,85.93 L387.43,86.66 L387.98,87.36 L388.53,88.05 L389.08,88.72 L389.62,89.37 L390.17,90.01 L390.72,90.64 L391.27,91.25 L391.82,91.84 L392.37,92.43 L392.92,92.99 L393.47,93.55 L394.01,94.09 L394.56,94.62 L395.11,95.14 L395.66,95.65 L396.21,96.14 L396.76,96.63 L397.31,97.10 L397.85,97.57 L398.40,98.02 L398.95,98.46 L399.50,98.90 L400.05,99.32 L400.60,99.74 L401.15,100.15 L401.69,100.55 L402.24,100.94 L402.79,101.32 L403.34,101.70 L403.99,102.14 L404.64,102.56 L405.30,102.98 L405.95,103.39 L406.60,103.79 L407.25,104.18 L407.91,104.56 L408.56,104.93 L409.21,105.29 L409.86,105.65 L410.52,106.00 L411.17,106.34 L411.82,106.68 L412.47,107.01 L413.12,107.33 L413.78,107.65 L414.43,107.96 L415.08,108.26 L415.73,108.56 L416.39,108.85 L417.04,109.14 L417.69,109.42 L418.34,109.70 L418.99,109.97 L419.65,110.24 L420.30,110.50 L420.95,110.76 L421.60,111.02 L422.26,111.27 L422.91,111.52 L423.56,111.76 L424.21,112.00 L424.87,112.23 L425.52,112.47 L426.17,112.70 L426.82,112.92 L427.47,113.15 L428.13,113.37 L428.78,113.59 L429.43,113.80 L430.08,114.01 L430.74,114.22 L431.39,114.43 L432.04,114.63 L432.69,114.83 L433.34,115.03 L434.00,115.23 L434.65,115.43 L435.30,115.62 L435.95,115.81 L436.61,116.00 L437.26,116.19 L437.91,116.38 L438.56,116.56 L439.22,116.74 L439.87,116.92 L440.52,117.10 L441.17,117.28 L441.82,117.46 L442.48,117.63 L443.13,117.80 L443.78,117.98 L444.43,118.15 L445.09,118.32 L445.74,118.48 L446.39,118.65 L447.04,118.82 L447.69,118.98 L448.35,119.14 L449.00,119.31 L449.65,119.47 L450.30,119.63 L450.96,119.79 L451.61,119.95 L452.26,120.10 L452.91,120.26 L453.57,120.42 L454.22,120.57 L454.87,120.73 L455.52,120.88 L456.17,121.03 L456.83,121.18 L457.48,121.34 L458.13,121.49 L458.78,121.64 L459.44,121.78 L460.09,121.93 L460.74,122.08 L461.39,122.23 L462.04,122.37 L462.70,122.52 L463.35,122.67 L464.00,122.81 L464.65,122.96 L465.31,123.10 L465.96,123.24 L466.61,123.39 L467.26,123.53 L467.92,123.67 L468.57,123.81 L469.22,123.95 L469.87,124.09 L470.52,124.23 L471.18,124.37 L471.83,124.51 L472.48,124.65 L473.13,124.79 L473.79,124.93 L474.44,125.07 L475.09,125.20 L475.74,125.34 L476.39,125.48 L477.05,125.61 L477.70,125.75 L478.35,125.89 L479.00,126.02 L479.66,126.16 L480.31,126.29 L480.96,126.42 L481.61,126.56 L482.27,126.69 L482.92,126.83 L483.57,126.96 L484.22,127.09 L484.87,127.23 L485.53,127.36 L486.18,127.49 L486.83,127.62 L487.48,127.75 L488.14,127.89 L488.79,128.02 L489.44,128.15 L490.09,128.28 L490.74,128.41 L491.40,128.54 L492.05,128.67 L492.70,128.80 L493.35,128.93 L494.01,129.06 L494.66,129.19 L495.31,129.32 L495.96,129.44 L496.62,129.57 L497.27,129.70 L497.92,129.83 L498.57,129.96 L499.22,130.09 L499.88,130.21 L500.53,130.34 L501.18,130.47 L501.83,130.59 L502.49,130.72 L503.14,130.85 L503.79,130.97 L504.44,131.10 L505.09,131.23 L505.75,131.35 L506.40,131.48 L507.05,131.60 L507.70,131.73 L508.36,131.85 L509.01,131.98 L509.66,132.10 L510.31,132.23 L510.97,132.35 L511.62,132.48 L512.27,132.60 L512.92,132.73 L513.57,132.85 L514.23,132.97 L514.88,133.10 L515.53,133.22 L516.18,133.34 L516.84,133.47 L517.49,133.59 L518.14,133.71 L518.79,133.83 L519.44,133.96 L520.10,134.08 L520.75,134.20 L521.40,134.32 L522.05,134.45 L522.71,134.57 L523.36,134.69 L524.01,134.81 L524.66,134.93 L525.32,135.05 L525.97,135.17 L526.62,135.29 L527.27,135.42 L527.92,135.54 L528.58,135.66 L529.23,135.78 L529.88,135.90 L530.53,136.02 L531.19,136.14 L531.84,136.26 L532.49,136.38 L533.14,136.50 L533.79,136.61 L534.45,136.73 L535.10,136.85 L535.75,136.97 L536.40,137.09 L537.06,137.21 L537.71,137.33 L538.36,137.45 L539.01,137.56 L539.67,137.68 L540.32,137.80 L540.97,137.92 L541.62,138.04 L542.27,138.15 L542.93,138.27 L543.58,138.39 L544.23,138.50 L544.88,138.62 L545.54,138.74 L546.19,138.85 L546.84,138.97 L547.49,139.09 L548.14,139.20 L548.80,139.32 L549.45,139.44 L550.10,139.55 L550.75,139.67 L551.41,139.78 L552.06,139.90 L552.71,140.02 L553.36,140.13 L554.02,140.25 L554.67,140.36 L555.32,140.48 L555.97,140.59 L556.62,140.71 L557.28,140.82 L557.93,140.93 L558.58,141.05 L559.23,141.16 L559.89,141.28 L560.54,141.39 L561.19,141.50 L561.84,141.62 L562.49,141.73 L563.15,141.84 L563.80,141.96 L564.45,142.07 L565.10,142.18 L565.76,142.30 L566.41,142.41 L567.06,142.52 L567.71,142.64 L568.37,142.75 L569.02,142.86 L569.67,142.97 L570.32,143.08 L570.97,143.20 L571.63,143.31 L572.28,143.42 L572.93,143.53 L573.58,143.64 L574.24,143.75 L574.89,143.87 L575.54,143.98 L576.19,144.09 L576.84,144.20 L577.50,144.31 L578.15,144.42 L578.80,144.53 L579.45,144.64 L580.11,144.75 L580.76,144.86 L581.41,144.97 L582.06,145.08 L582.72,145.19 L583.37,145.30 L584.02,145.41 L584.67,145.52 L585.32,145.63 L585.98,145.74 L586.63,145.85 L587.28,145.95 L587.93,146.06 L588.59,146.17 L589.24,146.28 L589.89,146.39 L590.54,146.50 L591.19,146.61 L591.85,146.71 L592.50,146.82 L593.15,146.93 L593.80,147.04 L594.46,147.15 L595.11,147.25 L595.76,147.36 L596.41,147.47 L597.07,147.57 L597.72,147.68 L598.37,147.79" fill="none" stroke="#000" stroke-width="1.85" stroke-linejoin="round" stroke-linecap="butt"/>
<ellipse cx="366.0" cy="12.6" rx="5.1" ry="5.449999999999999" fill="#000"/>
<ellipse cx="371.2" cy="37.5" rx="5.1" ry="5.449999999999999" fill="#000"/>
<ellipse cx="376.2" cy="70.0" rx="5.1" ry="5.449999999999999" fill="#000"/>
<ellipse cx="386.7" cy="110.0" rx="5.1" ry="5.449999999999999" fill="#000"/>
<ellipse cx="407.5" cy="100.0" rx="5.1" ry="5.449999999999999" fill="#000"/>
<ellipse cx="468.5" cy="115.2" rx="5.1" ry="5.449999999999999" fill="#000"/>
<ellipse cx="577.0" cy="148.7" rx="5.1" ry="5.449999999999999" fill="#000"/>
<circle cx="365.4" cy="11.7" r="5.1" fill="#fff" stroke="#cbcbcb" stroke-width="1.0"/>
<circle cx="370.5" cy="44.2" r="5.1" fill="#fff" stroke="#cbcbcb" stroke-width="1.0"/>
<circle cx="376.2" cy="55.8" r="5.1" fill="#fff" stroke="#cbcbcb" stroke-width="1.0"/>
<circle cx="386.7" cy="62.8" r="5.1" fill="#fff" stroke="#cbcbcb" stroke-width="1.0"/>
<circle cx="407.7" cy="79.5" r="5.1" fill="#fff" stroke="#cbcbcb" stroke-width="1.0"/>
<circle cx="468.3" cy="110.8" r="5.1" fill="#fff" stroke="#cbcbcb" stroke-width="1.0"/>
<circle cx="577.0" cy="122.5" r="5.1" fill="#fff" stroke="#cbcbcb" stroke-width="1.0"/>
<line x1="44.20" y1="418.75" x2="284.80" y2="418.75" stroke="#7a7a7a" stroke-width="1.7"/>
<line x1="45.00" y1="247.60" x2="45.00" y2="418.75" stroke="#7a7a7a" stroke-width="1.65"/>
<line x1="284.00" y1="247.60" x2="284.00" y2="418.75" stroke="#7a7a7a" stroke-width="1.65"/>
<line x1="44.10" y1="247.60" x2="284.90" y2="247.60" stroke="#5c5c5c" stroke-width="1.3"/>
<line x1="89.50" y1="419.35" x2="89.50" y2="412.15" stroke="#1c1c1c" stroke-width="1.0"/>
<line x1="89.50" y1="247.30" x2="89.50" y2="253.80" stroke="#1c1c1c" stroke-width="1.0"/>
<line x1="133.50" y1="419.35" x2="133.50" y2="412.15" stroke="#1c1c1c" stroke-width="1.0"/>
<line x1="133.50" y1="247.30" x2="133.50" y2="253.80" stroke="#1c1c1c" stroke-width="1.0"/>
<line x1="177.50" y1="419.35" x2="177.50" y2="412.15" stroke="#1c1c1c" stroke-width="1.0"/>
<line x1="177.50" y1="247.30" x2="177.50" y2="253.80" stroke="#1c1c1c" stroke-width="1.0"/>
<line x1="222.50" y1="419.35" x2="222.50" y2="412.15" stroke="#1c1c1c" stroke-width="1.0"/>
<line x1="222.50" y1="247.30" x2="222.50" y2="253.80" stroke="#1c1c1c" stroke-width="1.0"/>
<line x1="266.50" y1="419.35" x2="266.50" y2="412.15" stroke="#1c1c1c" stroke-width="1.0"/>
<line x1="266.50" y1="247.30" x2="266.50" y2="253.80" stroke="#1c1c1c" stroke-width="1.0"/>
<line x1="44.40" y1="418.50" x2="50.80" y2="418.50" stroke="#1c1c1c" stroke-width="1.0"/>
<line x1="284.60" y1="418.50" x2="278.20" y2="418.50" stroke="#1c1c1c" stroke-width="1.0"/>
<line x1="44.40" y1="382.50" x2="50.80" y2="382.50" stroke="#1c1c1c" stroke-width="1.0"/>
<line x1="284.60" y1="382.50" x2="278.20" y2="382.50" stroke="#1c1c1c" stroke-width="1.0"/>
<line x1="44.40" y1="347.50" x2="50.80" y2="347.50" stroke="#1c1c1c" stroke-width="1.0"/>
<line x1="284.60" y1="347.50" x2="278.20" y2="347.50" stroke="#1c1c1c" stroke-width="1.0"/>
<line x1="44.40" y1="311.50" x2="50.80" y2="311.50" stroke="#1c1c1c" stroke-width="1.0"/>
<line x1="284.60" y1="311.50" x2="278.20" y2="311.50" stroke="#1c1c1c" stroke-width="1.0"/>
<line x1="44.40" y1="276.50" x2="50.80" y2="276.50" stroke="#1c1c1c" stroke-width="1.0"/>
<line x1="284.60" y1="276.50" x2="278.20" y2="276.50" stroke="#1c1c1c" stroke-width="1.0"/>
<text transform="translate(45.0,437.9) scale(1,1.1)" font-size="11.5" text-anchor="middle" stroke-width="0.25">0</text>
<text transform="translate(89.2,437.9) scale(1,1.1)" font-size="11.5" text-anchor="middle" stroke-width="0.25">5</text>
<text transform="translate(133.5,437.9) scale(1,1.1)" font-size="11.5" text-anchor="middle" stroke-width="0.25">10</text>
<text transform="translate(177.8,437.9) scale(1,1.1)" font-size="11.5" text-anchor="middle" stroke-width="0.25">15</text>
<text transform="translate(222.0,437.9) scale(1,1.1)" font-size="11.5" text-anchor="middle" stroke-width="0.25">20</text>
<text transform="translate(266.2,437.9) scale(1,1.1)" font-size="11.5" text-anchor="middle" stroke-width="0.25">25</text>
<text transform="translate(38.5,420.0) scale(1,1.1)" font-size="11.5" text-anchor="end" stroke-width="0.25">0</text>
<text transform="translate(38.5,384.5) scale(1,1.1)" font-size="11.5" text-anchor="end" stroke-width="0.25">1</text>
<text transform="translate(38.5,349.0) scale(1,1.1)" font-size="11.5" text-anchor="end" stroke-width="0.25">2</text>
<text transform="translate(38.5,313.5) scale(1,1.1)" font-size="11.5" text-anchor="end" stroke-width="0.25">3</text>
<text transform="translate(38.5,278.0) scale(1,1.1)" font-size="11.5" text-anchor="end" stroke-width="0.25">4</text>
<text x="164.7" y="456.9" font-size="15.7" text-anchor="middle" stroke-width="0.12" >Time (minutes)</text>
<text transform="translate(13.5,333.2) rotate(-90) scale(1.04,1)" font-size="15.9" stroke-width="0.12" text-anchor="middle">#&#160;of Sites</text>
<text transform="translate(267.4,275.2) scale(0.9,1)" font-size="23.5" stroke-width="0.6" stroke-linejoin="miter" text-anchor="middle">C</text>
<path d="M45.00,265.75 L45.22,272.24 L45.45,277.84 L45.67,282.66 L45.90,286.83 L46.12,290.42 L46.34,293.53 L46.57,296.22 L46.79,298.55 L47.02,300.58 L47.24,302.33 L47.46,303.86 L47.69,305.19 L47.91,306.35 L48.14,307.37 L48.36,308.26 L48.58,309.05 L48.81,309.74 L49.03,310.35 L49.26,310.90 L49.48,311.39 L49.71,311.83 L49.93,312.22 L50.15,312.58 L50.38,312.91 L50.60,313.21 L50.83,313.48 L51.05,313.74 L51.27,313.98 L51.50,314.20 L51.72,314.41 L51.95,314.61 L52.17,314.80 L52.39,314.98 L52.62,315.15 L52.84,315.32 L53.07,315.48 L53.29,315.64 L53.51,315.80 L53.74,315.95 L53.96,316.09 L54.19,316.24 L54.41,316.38 L54.63,316.52 L54.86,316.66 L55.08,316.80 L55.31,316.94 L55.53,317.07 L55.75,317.21 L55.98,317.34 L56.20,317.47 L56.43,317.61 L56.65,317.74 L56.87,317.87 L57.10,318.00 L57.32,318.13 L57.55,318.26 L57.77,318.39 L57.99,318.52 L58.22,318.64 L58.44,318.77 L58.67,318.90 L58.89,319.03 L59.12,319.16 L59.34,319.28 L59.56,319.41 L59.79,319.54 L60.01,319.66 L60.24,319.79 L60.46,319.92 L60.68,320.04 L60.91,320.17 L61.13,320.29 L61.36,320.42 L61.58,320.54 L61.80,320.67 L62.03,320.79 L62.25,320.92 L62.48,321.04 L62.70,321.17 L63.44,321.58 L64.18,321.99 L64.93,322.40 L65.67,322.80 L66.41,323.21 L67.15,323.61 L67.89,324.01 L68.64,324.41 L69.38,324.80 L70.12,325.20 L70.86,325.59 L71.60,325.99 L72.35,326.38 L73.09,326.76 L73.83,327.15 L74.57,327.54 L75.31,327.92 L76.06,328.30 L76.80,328.68 L77.54,329.06 L78.28,329.44 L79.02,329.82 L79.77,330.19 L80.51,330.56 L81.25,330.93 L81.99,331.30 L82.74,331.67 L83.48,332.04 L84.22,332.40 L84.96,332.77 L85.70,333.13 L86.45,333.49 L87.19,333.85 L87.93,334.21 L88.67,334.56 L89.41,334.92 L90.16,335.27 L90.90,335.62 L91.64,335.97 L92.38,336.32 L93.12,336.66 L93.87,337.01 L94.61,337.35 L95.35,337.70 L96.09,338.04 L96.83,338.38 L97.58,338.71 L98.32,339.05 L99.06,339.39 L99.80,339.72 L100.54,340.05 L101.29,340.38 L102.03,340.71 L102.77,341.04 L103.51,341.37 L104.25,341.69 L105.00,342.02 L105.74,342.34 L106.48,342.66 L107.22,342.98 L107.96,343.30 L108.71,343.62 L109.45,343.93 L110.19,344.25 L110.93,344.56 L111.67,344.87 L112.42,345.18 L113.16,345.49 L113.90,345.80 L114.64,346.11 L115.38,346.41 L116.13,346.72 L116.87,347.02 L117.61,347.32 L118.35,347.62 L119.09,347.92 L119.84,348.22 L120.58,348.52 L121.32,348.81 L122.06,349.11 L122.81,349.40 L123.55,349.69 L124.29,349.98 L125.03,350.27 L125.77,350.56 L126.52,350.84 L127.26,351.13 L128.00,351.41 L128.74,351.70 L129.48,351.98 L130.23,352.26 L130.97,352.54 L131.71,352.82 L132.45,353.09 L133.19,353.37 L133.94,353.65 L134.68,353.92 L135.42,354.19 L136.16,354.46 L136.90,354.73 L137.65,355.00 L138.39,355.27 L139.13,355.54 L139.87,355.80 L140.61,356.07 L141.36,356.33 L142.10,356.59 L142.84,356.85 L143.58,357.11 L144.32,357.37 L145.07,357.63 L145.81,357.89 L146.55,358.14 L147.29,358.40 L148.03,358.65 L148.78,358.90 L149.52,359.15 L150.26,359.40 L151.00,359.65 L151.74,359.90 L152.49,360.15 L153.23,360.40 L153.97,360.64 L154.71,360.88 L155.45,361.13 L156.20,361.37 L156.94,361.61 L157.68,361.85 L158.42,362.09 L159.16,362.33 L159.91,362.56 L160.65,362.80 L161.39,363.04 L162.13,363.27 L162.88,363.50 L163.62,363.73 L164.36,363.97 L165.10,364.20 L165.84,364.42 L166.59,364.65 L167.33,364.88 L168.07,365.11 L168.81,365.33 L169.55,365.55 L170.30,365.78 L171.04,366.00 L171.78,366.22 L172.52,366.44 L173.26,366.66 L174.01,366.88 L174.75,367.10 L175.49,367.31 L176.23,367.53 L176.97,367.75 L177.72,367.96 L178.46,368.17 L179.20,368.39 L179.94,368.60 L180.68,368.81 L181.43,369.02 L182.17,369.23 L182.91,369.43 L183.65,369.64 L184.39,369.85 L185.14,370.05 L185.88,370.26 L186.62,370.46 L187.36,370.66 L188.10,370.86 L188.85,371.06 L189.59,371.26 L190.33,371.46 L191.07,371.66 L191.81,371.86 L192.56,372.06 L193.30,372.25 L194.04,372.45 L194.78,372.64 L195.52,372.83 L196.27,373.03 L197.01,373.22 L197.75,373.41 L198.49,373.60 L199.24,373.79 L199.98,373.98 L200.72,374.16 L201.46,374.35 L202.20,374.54 L202.95,374.72 L203.69,374.91 L204.43,375.09 L205.17,375.27 L205.91,375.46 L206.66,375.64 L207.40,375.82 L208.14,376.00 L208.88,376.18 L209.62,376.36 L210.37,376.53 L211.11,376.71 L211.85,376.89 L212.59,377.06 L213.33,377.24 L214.08,377.41 L214.82,377.58 L215.56,377.76 L216.30,377.93 L217.04,378.10 L217.79,378.27 L218.53,378.44 L219.27,378.61 L220.01,378.78 L220.75,378.94 L221.50,379.11 L222.24,379.28 L222.98,379.44 L223.72,379.61 L224.46,379.77 L225.21,379.93 L225.95,380.10 L226.69,380.26 L227.43,380.42 L228.17,380.58 L228.92,380.74 L229.66,380.90 L230.40,381.06 L231.14,381.21 L231.88,381.37 L232.63,381.53 L233.37,381.68 L234.11,381.84 L234.85,381.99 L235.59,382.15 L236.34,382.30 L237.08,382.45 L237.82,382.60 L238.56,382.76 L239.31,382.91 L240.05,383.06 L240.79,383.21 L241.53,383.35 L242.27,383.50 L243.02,383.65 L243.76,383.80 L244.50,383.94 L245.24,384.09 L245.98,384.23 L246.73,384.38 L247.47,384.52 L248.21,384.66 L248.95,384.81 L249.69,384.95 L250.44,385.09 L251.18,385.23 L251.92,385.37 L252.66,385.51 L253.40,385.65 L254.15,385.79 L254.89,385.93 L255.63,386.06 L256.37,386.20 L257.11,386.34 L257.86,386.47 L258.60,386.61 L259.34,386.74 L260.08,386.87 L260.82,387.01 L261.57,387.14 L262.31,387.27 L263.05,387.40 L263.79,387.54 L264.53,387.67 L265.28,387.80 L266.02,387.92 L266.76,388.05 L267.50,388.18 L268.24,388.31 L268.99,388.44 L269.73,388.56 L270.47,388.69 L271.21,388.81 L271.95,388.94 L272.70,389.06 L273.44,389.19 L274.18,389.31 L274.92,389.43 L275.67,389.56 L276.41,389.68 L277.15,389.80 L277.89,389.92 L278.63,390.04 L279.38,390.16 L280.12,390.28 L280.86,390.40 L281.60,390.52 L282.34,390.64 L283.09,390.75 L283.83,390.87 L284.57,390.99" fill="none" stroke="#000" stroke-width="1.9" stroke-linejoin="round" stroke-linecap="butt"/>
<path d="M45.00,264.87 L45.22,266.63 L45.45,268.32 L45.67,269.96 L45.90,271.56 L46.12,273.11 L46.34,274.62 L46.57,276.10 L46.79,277.55 L47.02,278.97 L47.24,280.36 L47.46,281.72 L47.69,283.06 L47.91,284.38 L48.14,285.69 L48.36,286.97 L48.58,288.23 L48.81,289.48 L49.03,290.71 L49.26,291.93 L49.48,293.13 L49.71,294.32 L49.93,295.49 L50.15,296.65 L50.38,297.80 L50.60,298.93 L50.83,300.06 L51.05,301.17 L51.27,302.27 L51.50,303.36 L51.72,304.44 L51.95,305.50 L52.17,306.56 L52.39,307.61 L52.62,308.64 L52.84,309.67 L53.07,310.69 L53.29,311.69 L53.51,312.69 L53.74,313.68 L53.96,314.65 L54.19,315.62 L54.41,316.58 L54.63,317.53 L54.86,318.47 L55.08,319.41 L55.31,320.33 L55.53,321.25 L55.75,322.15 L55.98,323.05 L56.20,323.94 L56.43,324.82 L56.65,325.69 L56.87,326.56 L57.10,327.42 L57.32,328.26 L57.55,329.10 L57.77,329.94 L57.99,330.76 L58.22,331.58 L58.44,332.39 L58.67,333.19 L58.89,333.99 L59.12,334.77 L59.34,335.55 L59.56,336.33 L59.79,337.09 L60.01,337.85 L60.24,338.60 L60.46,339.35 L60.68,340.08 L60.91,340.81 L61.13,341.54 L61.36,342.25 L61.58,342.96 L61.80,343.67 L62.03,344.36 L62.25,345.05 L62.48,345.74 L62.70,346.42 L63.44,348.62 L64.18,350.75 L64.93,352.82 L65.67,354.82 L66.41,356.76 L67.15,358.65 L67.89,360.47 L68.64,362.24 L69.38,363.96 L70.12,365.62 L70.86,367.23 L71.60,368.80 L72.35,370.31 L73.09,371.78 L73.83,373.21 L74.57,374.59 L75.31,375.93 L76.06,377.22 L76.80,378.48 L77.54,379.70 L78.28,380.88 L79.02,382.03 L79.77,383.14 L80.51,384.22 L81.25,385.26 L81.99,386.28 L82.74,387.26 L83.48,388.21 L84.22,389.13 L84.96,390.03 L85.70,390.89 L86.45,391.73 L87.19,392.55 L87.93,393.34 L88.67,394.10 L89.41,394.85 L90.16,395.57 L90.90,396.26 L91.64,396.94 L92.38,397.60 L93.12,398.23 L93.87,398.85 L94.61,399.44 L95.35,400.02 L96.09,400.59 L96.83,401.13 L97.58,401.66 L98.32,402.17 L99.06,402.66 L99.80,403.15 L100.54,403.61 L101.29,404.06 L102.03,404.50 L102.77,404.93 L103.51,405.34 L104.25,405.74 L105.00,406.12 L105.74,406.50 L106.48,406.86 L107.22,407.22 L107.96,407.56 L108.71,407.89 L109.45,408.21 L110.19,408.52 L110.93,408.82 L111.67,409.12 L112.42,409.40 L113.16,409.67 L113.90,409.94 L114.64,410.20 L115.38,410.45 L116.13,410.69 L116.87,410.93 L117.61,411.16 L118.35,411.38 L119.09,411.59 L119.84,411.80 L120.58,412.00 L121.32,412.20 L122.06,412.39 L122.81,412.57 L123.55,412.75 L124.29,412.92 L125.03,413.09 L125.77,413.25 L126.52,413.41 L127.26,413.56 L128.00,413.71 L128.74,413.85 L129.48,413.99 L130.23,414.13 L130.97,414.26 L131.71,414.38 L132.45,414.51 L133.19,414.62 L133.94,414.74 L134.68,414.85 L135.42,414.96 L136.16,415.07 L136.90,415.17 L137.65,415.27 L138.39,415.36 L139.13,415.45 L139.87,415.54 L140.61,415.63 L141.36,415.72 L142.10,415.80 L142.84,415.88 L143.58,415.96 L144.32,416.03 L145.07,416.10 L145.81,416.17 L146.55,416.24 L147.29,416.31 L148.03,416.37 L148.78,416.43 L149.52,416.49 L150.26,416.55 L151.00,416.61 L151.74,416.66 L152.49,416.72 L153.23,416.77 L153.97,416.82 L154.71,416.86 L155.45,416.91 L156.20,416.96 L156.94,417.00 L157.68,417.04 L158.42,417.09 L159.16,417.13 L159.91,417.16 L160.65,417.20 L161.39,417.24 L162.13,417.27 L162.88,417.31 L163.62,417.34 L164.36,417.37 L165.10,417.41 L165.84,417.44 L166.59,417.47 L167.33,417.49 L168.07,417.52 L168.81,417.55 L169.55,417.57 L170.30,417.60 L171.04,417.62 L171.78,417.65 L172.52,417.67 L173.26,417.69 L174.01,417.71 L174.75,417.74 L175.49,417.76 L176.23,417.78 L176.97,417.79 L177.72,417.81 L178.46,417.83 L179.20,417.85 L179.94,417.87 L180.68,417.88 L181.43,417.90 L182.17,417.91 L182.91,417.93 L183.65,417.94 L184.39,417.96 L185.14,417.97 L185.88,417.98 L186.62,418.00 L187.36,418.01 L188.10,418.02 L188.85,418.03 L189.59,418.04 L190.33,418.05 L191.07,418.06 L191.81,418.07 L192.56,418.08 L193.30,418.09 L194.04,418.10 L194.78,418.11 L195.52,418.12 L196.27,418.13 L197.01,418.14 L197.75,418.15 L198.49,418.15 L199.24,418.16 L199.98,418.17 L200.72,418.18 L201.46,418.18 L202.20,418.19 L202.95,418.20 L203.69,418.20 L204.43,418.21 L205.17,418.21 L205.91,418.22 L206.66,418.23 L207.40,418.23 L208.14,418.24 L208.88,418.24 L209.62,418.25 L210.37,418.25 L211.11,418.25 L211.85,418.26 L212.59,418.26 L213.33,418.27 L214.08,418.27 L214.82,418.28 L215.56,418.28 L216.30,418.28 L217.04,418.29 L217.79,418.29 L218.53,418.29 L219.27,418.30 L220.01,418.30 L220.75,418.30 L221.50,418.31 L222.24,418.31 L222.98,418.31 L223.72,418.31 L224.46,418.32 L225.21,418.32 L225.95,418.32 L226.69,418.32 L227.43,418.33 L228.17,418.33 L228.92,418.33 L229.66,418.33 L230.40,418.34 L231.14,418.34 L231.88,418.34 L232.63,418.34 L233.37,418.34 L234.11,418.34 L234.85,418.35 L235.59,418.35 L236.34,418.35 L237.08,418.35 L237.82,418.35 L238.56,418.35 L239.31,418.36 L240.05,418.36 L240.79,418.36 L241.53,418.36 L242.27,418.36 L243.02,418.36 L243.76,418.36 L244.50,418.36 L245.24,418.37 L245.98,418.37 L246.73,418.37 L247.47,418.37 L248.21,418.37 L248.95,418.37 L249.69,418.37 L250.44,418.37 L251.18,418.37 L251.92,418.37 L252.66,418.37 L253.40,418.38 L254.15,418.38 L254.89,418.38 L255.63,418.38 L256.37,418.38 L257.11,418.38 L257.86,418.38 L258.60,418.38 L259.34,418.38 L260.08,418.38 L260.82,418.38 L261.57,418.38 L262.31,418.38 L263.05,418.38 L263.79,418.38 L264.53,418.38 L265.28,418.38 L266.02,418.39 L266.76,418.39 L267.50,418.39 L268.24,418.39 L268.99,418.39 L269.73,418.39 L270.47,418.39 L271.21,418.39 L271.95,418.39 L272.70,418.39 L273.44,418.39 L274.18,418.39 L274.92,418.39 L275.67,418.39 L276.41,418.39 L277.15,418.39 L277.89,418.39 L278.63,418.39 L279.38,418.39 L280.12,418.39 L280.86,418.39 L281.60,418.39 L282.34,418.39 L283.09,418.39 L283.83,418.39 L284.57,418.39" fill="none" stroke="#000" stroke-width="1.9" stroke-linejoin="round" stroke-linecap="butt"/>
<circle cx="45.0" cy="263.7" r="5.1" fill="#fff" stroke="#cbcbcb" stroke-width="1.0"/>
<circle cx="51.7" cy="310.0" r="5.1" fill="#fff" stroke="#cbcbcb" stroke-width="1.0"/>
<circle cx="59.2" cy="315.0" r="5.1" fill="#fff" stroke="#cbcbcb" stroke-width="1.0"/>
<circle cx="70.5" cy="330.8" r="5.1" fill="#fff" stroke="#cbcbcb" stroke-width="1.0"/>
<circle cx="89.2" cy="333.7" r="5.1" fill="#fff" stroke="#cbcbcb" stroke-width="1.0"/>
<circle cx="127.3" cy="354.5" r="5.1" fill="#fff" stroke="#cbcbcb" stroke-width="1.0"/>
<circle cx="164.5" cy="361.2" r="5.1" fill="#fff" stroke="#cbcbcb" stroke-width="1.0"/>
<circle cx="279.5" cy="391.7" r="5.1" fill="#fff" stroke="#cbcbcb" stroke-width="1.0"/>
<ellipse cx="45.0" cy="257.2" rx="5.1" ry="5.449999999999999" fill="#000"/>
<ellipse cx="51.7" cy="314.7" rx="5.1" ry="5.449999999999999" fill="#000"/>
<ellipse cx="57.8" cy="330.0" rx="5.1" ry="5.449999999999999" fill="#000"/>
<ellipse cx="70.8" cy="364.0" rx="5.1" ry="5.449999999999999" fill="#000"/>
<ellipse cx="103.7" cy="400.3" rx="5.1" ry="5.449999999999999" fill="#000"/>
<ellipse cx="127.2" cy="408.7" rx="5.1" ry="5.449999999999999" fill="#000"/>
<ellipse cx="164.5" cy="412.5" rx="5.1" ry="5.449999999999999" fill="#000"/>
<ellipse cx="279.5" cy="413.7" rx="5.1" ry="5.449999999999999" fill="#000"/>
<line x1="359.30" y1="418.75" x2="600.00" y2="418.75" stroke="#7a7a7a" stroke-width="1.7"/>
<line x1="360.10" y1="247.60" x2="360.10" y2="418.75" stroke="#7a7a7a" stroke-width="1.65"/>
<line x1="599.20" y1="247.60" x2="599.20" y2="418.75" stroke="#7a7a7a" stroke-width="1.65"/>
<line x1="359.20" y1="247.60" x2="600.10" y2="247.60" stroke="#5c5c5c" stroke-width="1.3"/>
<line x1="404.50" y1="419.35" x2="404.50" y2="412.15" stroke="#1c1c1c" stroke-width="1.0"/>
<line x1="404.50" y1="247.30" x2="404.50" y2="253.80" stroke="#1c1c1c" stroke-width="1.0"/>
<line x1="448.50" y1="419.35" x2="448.50" y2="412.15" stroke="#1c1c1c" stroke-width="1.0"/>
<line x1="448.50" y1="247.30" x2="448.50" y2="253.80" stroke="#1c1c1c" stroke-width="1.0"/>
<line x1="492.50" y1="419.35" x2="492.50" y2="412.15" stroke="#1c1c1c" stroke-width="1.0"/>
<line x1="492.50" y1="247.30" x2="492.50" y2="253.80" stroke="#1c1c1c" stroke-width="1.0"/>
<line x1="536.50" y1="419.35" x2="536.50" y2="412.15" stroke="#1c1c1c" stroke-width="1.0"/>
<line x1="536.50" y1="247.30" x2="536.50" y2="253.80" stroke="#1c1c1c" stroke-width="1.0"/>
<line x1="581.50" y1="419.35" x2="581.50" y2="412.15" stroke="#1c1c1c" stroke-width="1.0"/>
<line x1="581.50" y1="247.30" x2="581.50" y2="253.80" stroke="#1c1c1c" stroke-width="1.0"/>
<line x1="359.50" y1="418.50" x2="365.90" y2="418.50" stroke="#1c1c1c" stroke-width="1.0"/>
<line x1="599.80" y1="418.50" x2="593.40" y2="418.50" stroke="#1c1c1c" stroke-width="1.0"/>
<line x1="359.50" y1="392.50" x2="365.90" y2="392.50" stroke="#1c1c1c" stroke-width="1.0"/>
<line x1="599.80" y1="392.50" x2="593.40" y2="392.50" stroke="#1c1c1c" stroke-width="1.0"/>
<line x1="359.50" y1="367.50" x2="365.90" y2="367.50" stroke="#1c1c1c" stroke-width="1.0"/>
<line x1="599.80" y1="367.50" x2="593.40" y2="367.50" stroke="#1c1c1c" stroke-width="1.0"/>
<line x1="359.50" y1="342.50" x2="365.90" y2="342.50" stroke="#1c1c1c" stroke-width="1.0"/>
<line x1="599.80" y1="342.50" x2="593.40" y2="342.50" stroke="#1c1c1c" stroke-width="1.0"/>
<line x1="359.50" y1="316.50" x2="365.90" y2="316.50" stroke="#1c1c1c" stroke-width="1.0"/>
<line x1="599.80" y1="316.50" x2="593.40" y2="316.50" stroke="#1c1c1c" stroke-width="1.0"/>
<line x1="359.50" y1="290.50" x2="365.90" y2="290.50" stroke="#1c1c1c" stroke-width="1.0"/>
<line x1="599.80" y1="290.50" x2="593.40" y2="290.50" stroke="#1c1c1c" stroke-width="1.0"/>
<line x1="359.50" y1="265.50" x2="365.90" y2="265.50" stroke="#1c1c1c" stroke-width="1.0"/>
<line x1="599.80" y1="265.50" x2="593.40" y2="265.50" stroke="#1c1c1c" stroke-width="1.0"/>
<text transform="translate(360.0,437.9) scale(1,1.1)" font-size="11.5" text-anchor="middle" stroke-width="0.25">0</text>
<text transform="translate(404.2,437.9) scale(1,1.1)" font-size="11.5" text-anchor="middle" stroke-width="0.25">5</text>
<text transform="translate(448.5,437.9) scale(1,1.1)" font-size="11.5" text-anchor="middle" stroke-width="0.25">10</text>
<text transform="translate(492.8,437.9) scale(1,1.1)" font-size="11.5" text-anchor="middle" stroke-width="0.25">15</text>
<text transform="translate(537.0,437.9) scale(1,1.1)" font-size="11.5" text-anchor="middle" stroke-width="0.25">20</text>
<text transform="translate(581.2,437.9) scale(1,1.1)" font-size="11.5" text-anchor="middle" stroke-width="0.25">25</text>
<text transform="translate(353.6,420.1) scale(1,1.1)" font-size="11.5" text-anchor="end" stroke-width="0.25">0</text>
<text transform="translate(353.6,394.6) scale(1,1.1)" font-size="11.5" text-anchor="end" stroke-width="0.25">1</text>
<text transform="translate(353.6,369.1) scale(1,1.1)" font-size="11.5" text-anchor="end" stroke-width="0.25">2</text>
<text transform="translate(353.6,343.6) scale(1,1.1)" font-size="11.5" text-anchor="end" stroke-width="0.25">3</text>
<text transform="translate(353.6,318.1) scale(1,1.1)" font-size="11.5" text-anchor="end" stroke-width="0.25">4</text>
<text transform="translate(353.6,292.6) scale(1,1.1)" font-size="11.5" text-anchor="end" stroke-width="0.25">5</text>
<text transform="translate(353.6,267.1) scale(1,1.1)" font-size="11.5" text-anchor="end" stroke-width="0.25">6</text>
<text x="479.9" y="456.9" font-size="15.7" text-anchor="middle" stroke-width="0.12" >Time (minutes)</text>
<text transform="translate(328.6,333.2) rotate(-90) scale(1.04,1)" font-size="15.9" stroke-width="0.12" text-anchor="middle">#&#160;of Sites</text>
<text transform="translate(583.0,274.8) scale(0.98,1)" font-size="23.5" stroke-width="0.6" stroke-linejoin="miter" text-anchor="middle">D</text>
<path d="M360.00,264.91 L360.22,264.92 L360.45,264.93 L360.67,264.94 L360.90,264.95 L361.12,264.96 L361.34,264.97 L361.57,264.98 L361.79,265.00 L362.02,265.02 L362.24,265.03 L362.46,265.05 L362.69,265.07 L362.91,265.09 L363.14,265.11 L363.36,265.13 L363.58,265.15 L363.81,265.18 L364.03,265.20 L364.26,265.22 L364.48,265.25 L364.71,265.28 L364.93,265.31 L365.15,265.33 L365.38,265.36 L365.60,265.39 L365.83,265.43 L366.05,265.46 L366.27,265.49 L366.50,265.53 L366.72,265.56 L366.95,265.60 L367.17,265.63 L367.39,265.67 L367.62,265.71 L367.84,265.75 L368.07,265.79 L368.29,265.83 L368.51,265.87 L368.74,265.91 L368.96,265.95 L369.19,266.00 L369.41,266.04 L369.63,266.08 L369.86,266.13 L370.08,266.18 L370.31,266.22 L370.53,266.27 L370.75,266.32 L370.98,266.37 L371.20,266.42 L371.43,266.47 L371.65,266.52 L371.87,266.58 L372.10,266.63 L372.32,266.68 L372.55,266.74 L372.77,266.79 L372.99,266.85 L373.22,266.90 L373.44,266.96 L373.67,267.02 L373.89,267.08 L374.12,267.13 L374.34,267.19 L374.56,267.25 L374.79,267.31 L375.01,267.38 L375.24,267.44 L375.46,267.50 L375.68,267.56 L375.91,267.63 L376.13,267.69 L376.36,267.75 L376.58,267.82 L376.80,267.89 L377.03,267.95 L377.25,268.02 L377.48,268.09 L377.70,268.16 L378.44,268.38 L379.18,268.62 L379.92,268.86 L380.66,269.10 L381.39,269.35 L382.13,269.61 L382.87,269.87 L383.61,270.13 L384.35,270.40 L385.09,270.68 L385.83,270.96 L386.57,271.24 L387.30,271.53 L388.04,271.82 L388.78,272.11 L389.52,272.41 L390.26,272.71 L391.00,273.02 L391.74,273.33 L392.48,273.64 L393.21,273.95 L393.95,274.27 L394.69,274.59 L395.43,274.92 L396.17,275.24 L396.91,275.57 L397.65,275.90 L398.39,276.24 L399.12,276.57 L399.86,276.91 L400.60,277.25 L401.34,277.60 L402.08,277.94 L402.82,278.29 L403.56,278.64 L404.30,278.99 L405.03,279.34 L405.77,279.69 L406.51,280.05 L407.25,280.40 L407.99,280.76 L408.73,281.12 L409.47,281.48 L410.21,281.84 L410.95,282.21 L411.68,282.57 L412.42,282.94 L413.16,283.30 L413.90,283.67 L414.64,284.04 L415.38,284.41 L416.12,284.78 L416.86,285.15 L417.59,285.52 L418.33,285.89 L419.07,286.26 L419.81,286.64 L420.55,287.01 L421.29,287.38 L422.03,287.76 L422.77,288.13 L423.50,288.51 L424.24,288.88 L424.98,289.26 L425.72,289.63 L426.46,290.01 L427.20,290.38 L427.94,290.76 L428.68,291.14 L429.41,291.51 L430.15,291.89 L430.89,292.27 L431.63,292.64 L432.37,293.02 L433.11,293.40 L433.85,293.77 L434.59,294.15 L435.33,294.52 L436.06,294.90 L436.80,295.27 L437.54,295.65 L438.28,296.02 L439.02,296.40 L439.76,296.77 L440.50,297.15 L441.24,297.52 L441.97,297.89 L442.71,298.27 L443.45,298.64 L444.19,299.01 L444.93,299.38 L445.67,299.75 L446.41,300.12 L447.15,300.49 L447.88,300.86 L448.62,301.23 L449.36,301.60 L450.10,301.97 L450.84,302.33 L451.58,302.70 L452.32,303.07 L453.06,303.43 L453.79,303.80 L454.53,304.16 L455.27,304.53 L456.01,304.89 L456.75,305.25 L457.49,305.61 L458.23,305.97 L458.97,306.33 L459.70,306.69 L460.44,307.05 L461.18,307.41 L461.92,307.77 L462.66,308.12 L463.40,308.48 L464.14,308.84 L464.88,309.19 L465.62,309.54 L466.35,309.90 L467.09,310.25 L467.83,310.60 L468.57,310.95 L469.31,311.30 L470.05,311.65 L470.79,312.00 L471.53,312.34 L472.26,312.69 L473.00,313.03 L473.74,313.38 L474.48,313.72 L475.22,314.07 L475.96,314.41 L476.70,314.75 L477.44,315.09 L478.17,315.43 L478.91,315.77 L479.65,316.10 L480.39,316.44 L481.13,316.78 L481.87,317.11 L482.61,317.45 L483.35,317.78 L484.08,318.11 L484.82,318.44 L485.56,318.77 L486.30,319.10 L487.04,319.43 L487.78,319.76 L488.52,320.09 L489.26,320.41 L489.99,320.74 L490.73,321.06 L491.47,321.39 L492.21,321.71 L492.95,322.03 L493.69,322.35 L494.43,322.67 L495.17,322.99 L495.91,323.31 L496.64,323.62 L497.38,323.94 L498.12,324.25 L498.86,324.57 L499.60,324.88 L500.34,325.19 L501.08,325.50 L501.82,325.81 L502.55,326.12 L503.29,326.43 L504.03,326.74 L504.77,327.05 L505.51,327.35 L506.25,327.66 L506.99,327.96 L507.73,328.26 L508.46,328.57 L509.20,328.87 L509.94,329.17 L510.68,329.47 L511.42,329.77 L512.16,330.06 L512.90,330.36 L513.64,330.66 L514.37,330.95 L515.11,331.24 L515.85,331.54 L516.59,331.83 L517.33,332.12 L518.07,332.41 L518.81,332.70 L519.55,332.99 L520.29,333.28 L521.02,333.56 L521.76,333.85 L522.50,334.13 L523.24,334.42 L523.98,334.70 L524.72,334.98 L525.46,335.26 L526.20,335.54 L526.93,335.82 L527.67,336.10 L528.41,336.38 L529.15,336.66 L529.89,336.93 L530.63,337.21 L531.37,337.48 L532.11,337.75 L532.84,338.03 L533.58,338.30 L534.32,338.57 L535.06,338.84 L535.80,339.11 L536.54,339.38 L537.28,339.64 L538.02,339.91 L538.75,340.17 L539.49,340.44 L540.23,340.70 L540.97,340.97 L541.71,341.23 L542.45,341.49 L543.19,341.75 L543.93,342.01 L544.66,342.27 L545.40,342.52 L546.14,342.78 L546.88,343.04 L547.62,343.29 L548.36,343.55 L549.10,343.80 L549.84,344.05 L550.58,344.31 L551.31,344.56 L552.05,344.81 L552.79,345.06 L553.53,345.30 L554.27,345.55 L555.01,345.80 L555.75,346.05 L556.49,346.29 L557.22,346.54 L557.96,346.78 L558.70,347.02 L559.44,347.26 L560.18,347.51 L560.92,347.75 L561.66,347.99 L562.40,348.22 L563.13,348.46 L563.87,348.70 L564.61,348.94 L565.35,349.17 L566.09,349.41 L566.83,349.64 L567.57,349.87 L568.31,350.11 L569.04,350.34 L569.78,350.57 L570.52,350.80 L571.26,351.03 L572.00,351.26 L572.74,351.49 L573.48,351.71 L574.22,351.94 L574.95,352.17 L575.69,352.39 L576.43,352.62 L577.17,352.84 L577.91,353.06 L578.65,353.28 L579.39,353.50 L580.13,353.73 L580.87,353.94 L581.60,354.16 L582.34,354.38 L583.08,354.60 L583.82,354.82 L584.56,355.03 L585.30,355.25 L586.04,355.46 L586.78,355.68 L587.51,355.89 L588.25,356.10 L588.99,356.31 L589.73,356.53 L590.47,356.74 L591.21,356.95 L591.95,357.15 L592.69,357.36 L593.42,357.57 L594.16,357.78 L594.90,357.98 L595.64,358.19 L596.38,358.39 L597.12,358.60 L597.86,358.80 L598.60,359.00" fill="none" stroke="#000" stroke-width="2.1" stroke-linejoin="round" stroke-linecap="butt"/>
<path d="M360.00,273.01 L360.22,272.85 L360.45,272.70 L360.67,272.55 L360.90,272.42 L361.12,272.30 L361.34,272.20 L361.57,272.10 L361.79,272.01 L362.02,271.93 L362.24,271.87 L362.46,271.81 L362.69,271.76 L362.91,271.73 L363.14,271.70 L363.36,271.68 L363.58,271.67 L363.81,271.67 L364.03,271.68 L364.26,271.69 L364.48,271.72 L364.71,271.75 L364.93,271.80 L365.15,271.85 L365.38,271.90 L365.60,271.97 L365.83,272.04 L366.05,272.12 L366.27,272.21 L366.50,272.31 L366.72,272.41 L366.95,272.52 L367.17,272.63 L367.39,272.75 L367.62,272.88 L367.84,273.02 L368.07,273.16 L368.29,273.31 L368.51,273.46 L368.74,273.62 L368.96,273.78 L369.19,273.95 L369.41,274.13 L369.63,274.31 L369.86,274.50 L370.08,274.69 L370.31,274.89 L370.53,275.09 L370.75,275.30 L370.98,275.51 L371.20,275.73 L371.43,275.95 L371.65,276.17 L371.87,276.40 L372.10,276.64 L372.32,276.87 L372.55,277.12 L372.77,277.36 L372.99,277.61 L373.22,277.87 L373.44,278.13 L373.67,278.39 L373.89,278.65 L374.12,278.92 L374.34,279.20 L374.56,279.47 L374.79,279.75 L375.01,280.03 L375.24,280.32 L375.46,280.61 L375.68,280.90 L375.91,281.19 L376.13,281.49 L376.36,281.79 L376.58,282.09 L376.80,282.40 L377.03,282.70 L377.25,283.01 L377.48,283.33 L377.70,283.64 L378.44,284.70 L379.18,285.78 L379.92,286.88 L380.66,287.99 L381.39,289.13 L382.13,290.28 L382.87,291.45 L383.61,292.62 L384.35,293.81 L385.09,295.01 L385.83,296.21 L386.57,297.43 L387.30,298.65 L388.04,299.87 L388.78,301.10 L389.52,302.32 L390.26,303.56 L391.00,304.79 L391.74,306.02 L392.48,307.25 L393.21,308.48 L393.95,309.71 L394.69,310.93 L395.43,312.16 L396.17,313.37 L396.91,314.59 L397.65,315.80 L398.39,317.00 L399.12,318.20 L399.86,319.39 L400.60,320.57 L401.34,321.75 L402.08,322.92 L402.82,324.08 L403.56,325.24 L404.30,326.38 L405.03,327.52 L405.77,328.65 L406.51,329.77 L407.25,330.88 L407.99,331.99 L408.73,333.08 L409.47,334.16 L410.21,335.24 L410.95,336.30 L411.68,337.36 L412.42,338.40 L413.16,339.44 L413.90,340.46 L414.64,341.48 L415.38,342.49 L416.12,343.48 L416.86,344.47 L417.59,345.44 L418.33,346.41 L419.07,347.36 L419.81,348.31 L420.55,349.24 L421.29,350.17 L422.03,351.08 L422.77,351.99 L423.50,352.88 L424.24,353.77 L424.98,354.64 L425.72,355.51 L426.46,356.36 L427.20,357.21 L427.94,358.04 L428.68,358.87 L429.41,359.68 L430.15,360.49 L430.89,361.29 L431.63,362.07 L432.37,362.85 L433.11,363.62 L433.85,364.38 L434.59,365.13 L435.33,365.87 L436.06,366.60 L436.80,367.33 L437.54,368.04 L438.28,368.75 L439.02,369.44 L439.76,370.13 L440.50,370.81 L441.24,371.48 L441.97,372.15 L442.71,372.80 L443.45,373.45 L444.19,374.09 L444.93,374.72 L445.67,375.34 L446.41,375.95 L447.15,376.56 L447.88,377.16 L448.62,377.75 L449.36,378.33 L450.10,378.91 L450.84,379.48 L451.58,380.04 L452.32,380.59 L453.06,381.14 L453.79,381.68 L454.53,382.21 L455.27,382.74 L456.01,383.26 L456.75,383.77 L457.49,384.28 L458.23,384.78 L458.97,385.27 L459.70,385.76 L460.44,386.24 L461.18,386.71 L461.92,387.18 L462.66,387.64 L463.40,388.09 L464.14,388.54 L464.88,388.99 L465.62,389.43 L466.35,389.86 L467.09,390.28 L467.83,390.70 L468.57,391.12 L469.31,391.53 L470.05,391.93 L470.79,392.33 L471.53,392.72 L472.26,393.11 L473.00,393.50 L473.74,393.87 L474.48,394.25 L475.22,394.62 L475.96,394.98 L476.70,395.34 L477.44,395.69 L478.17,396.04 L478.91,396.38 L479.65,396.72 L480.39,397.06 L481.13,397.39 L481.87,397.72 L482.61,398.04 L483.35,398.36 L484.08,398.67 L484.82,398.98 L485.56,399.28 L486.30,399.58 L487.04,399.88 L487.78,400.18 L488.52,400.46 L489.26,400.75 L489.99,401.03 L490.73,401.31 L491.47,401.58 L492.21,401.85 L492.95,402.12 L493.69,402.38 L494.43,402.64 L495.17,402.90 L495.91,403.15 L496.64,403.40 L497.38,403.65 L498.12,403.89 L498.86,404.13 L499.60,404.36 L500.34,404.60 L501.08,404.83 L501.82,405.05 L502.55,405.28 L503.29,405.50 L504.03,405.72 L504.77,405.93 L505.51,406.14 L506.25,406.35 L506.99,406.56 L507.73,406.76 L508.46,406.96 L509.20,407.16 L509.94,407.36 L510.68,407.55 L511.42,407.74 L512.16,407.93 L512.90,408.11 L513.64,408.30 L514.37,408.48 L515.11,408.65 L515.85,408.83 L516.59,409.00 L517.33,409.17 L518.07,409.34 L518.81,409.51 L519.55,409.67 L520.29,409.83 L521.02,409.99 L521.76,410.15 L522.50,410.31 L523.24,410.46 L523.98,410.61 L524.72,410.76 L525.46,410.91 L526.20,411.05 L526.93,411.19 L527.67,411.34 L528.41,411.48 L529.15,411.61 L529.89,411.75 L530.63,411.88 L531.37,412.01 L532.11,412.14 L532.84,412.27 L533.58,412.40 L534.32,412.52 L535.06,412.65 L535.80,412.77 L536.54,412.89 L537.28,413.01 L538.02,413.12 L538.75,413.24 L539.49,413.35 L540.23,413.47 L540.97,413.58 L541.71,413.69 L542.45,413.79 L543.19,413.90 L543.93,414.00 L544.66,414.11 L545.40,414.21 L546.14,414.31 L546.88,414.41 L547.62,414.51 L548.36,414.60 L549.10,414.70 L549.84,414.79 L550.58,414.89 L551.31,414.98 L552.05,415.07 L552.79,415.16 L553.53,415.25 L554.27,415.33 L555.01,415.42 L555.75,415.50 L556.49,415.58 L557.22,415.67 L557.96,415.75 L558.70,415.83 L559.44,415.91 L560.18,415.98 L560.92,416.06 L561.66,416.14 L562.40,416.21 L563.13,416.29 L563.87,416.36 L564.61,416.43 L565.35,416.50 L566.09,416.57 L566.83,416.64 L567.57,416.71 L568.31,416.77 L569.04,416.84 L569.78,416.90 L570.52,416.97 L571.26,417.03 L572.00,417.10 L572.74,417.16 L573.48,417.22 L574.22,417.28 L574.95,417.34 L575.69,417.40 L576.43,417.45 L577.17,417.51 L577.91,417.57 L578.65,417.62 L579.39,417.68 L580.13,417.73 L580.87,417.78 L581.60,417.84 L582.34,417.89 L583.08,417.94 L583.82,417.99 L584.56,418.04 L585.30,418.09 L586.04,418.14 L586.78,418.18 L587.51,418.23 L588.25,418.28 L588.99,418.30 L589.73,418.30 L590.47,418.30 L591.21,418.30 L591.95,418.30 L592.69,418.30 L593.42,418.30 L594.16,418.30 L594.90,418.30 L595.64,418.30 L596.38,418.30 L597.12,418.30 L597.86,418.30 L598.60,418.30" fill="none" stroke="#000" stroke-width="2.1" stroke-linejoin="round" stroke-linecap="butt"/>
<circle cx="360.0" cy="271.5" r="5.1" fill="#fff" stroke="#cbcbcb" stroke-width="1.0"/>
<circle cx="366.5" cy="258.0" r="5.1" fill="#fff" stroke="#cbcbcb" stroke-width="1.0"/>
<circle cx="385.8" cy="266.8" r="5.1" fill="#fff" stroke="#cbcbcb" stroke-width="1.0"/>
<circle cx="404.2" cy="287.5" r="5.1" fill="#fff" stroke="#cbcbcb" stroke-width="1.0"/>
<circle cx="441.7" cy="291.3" r="5.1" fill="#fff" stroke="#cbcbcb" stroke-width="1.0"/>
<circle cx="479.2" cy="320.8" r="5.1" fill="#fff" stroke="#cbcbcb" stroke-width="1.0"/>
<circle cx="594.5" cy="357.3" r="5.1" fill="#fff" stroke="#cbcbcb" stroke-width="1.0"/>
<ellipse cx="360.2" cy="278.5" rx="5.1" ry="5.449999999999999" fill="#000"/>
<ellipse cx="366.5" cy="278.5" rx="5.1" ry="5.449999999999999" fill="#000"/>
<ellipse cx="373.2" cy="264.5" rx="5.1" ry="5.449999999999999" fill="#000"/>
<ellipse cx="385.8" cy="295.0" rx="5.1" ry="5.449999999999999" fill="#000"/>
<ellipse cx="418.3" cy="348.0" rx="5.1" ry="5.449999999999999" fill="#000"/>
<ellipse cx="442.2" cy="377.0" rx="5.1" ry="5.449999999999999" fill="#000"/>
<ellipse cx="479.5" cy="394.3" rx="5.1" ry="5.449999999999999" fill="#000"/>
<ellipse cx="594.5" cy="408.6" rx="5.1" ry="5.449999999999999" fill="#000"/>
</svg>
</body></html>
